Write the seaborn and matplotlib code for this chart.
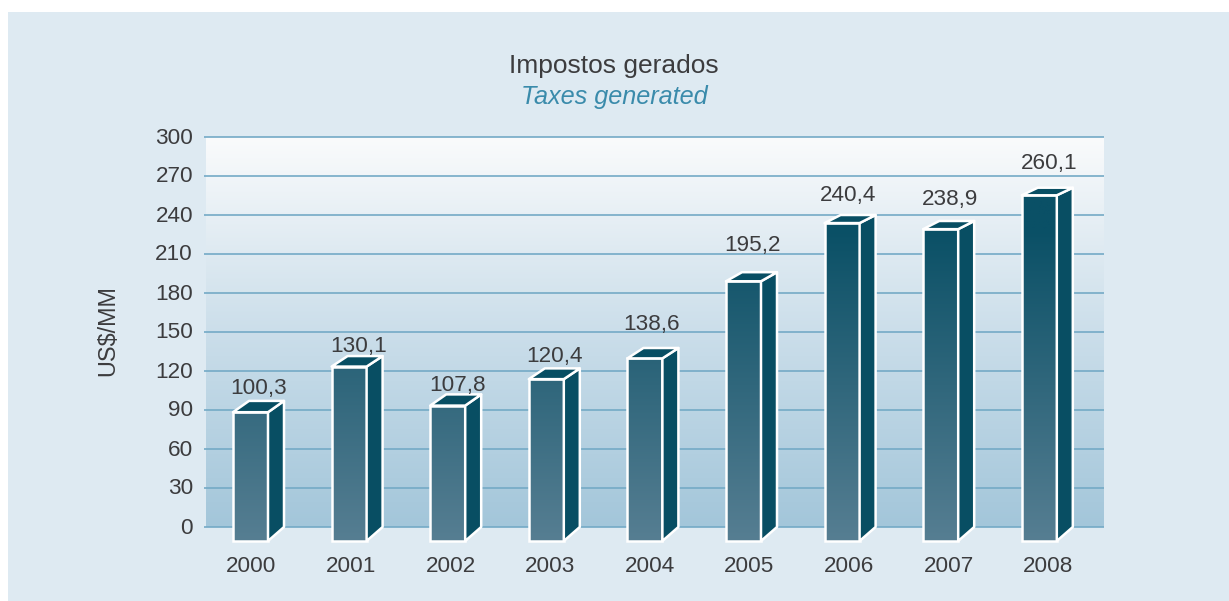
import matplotlib
matplotlib.use("Agg")
import matplotlib.pyplot as plt
import matplotlib.transforms as mtrans
import numpy as np
import pandas as pd
import seaborn as sns
from matplotlib.colors import LinearSegmentedColormap
from matplotlib.patches import Polygon, Rectangle

years = ["2000", "2001", "2002", "2003", "2004", "2005", "2006", "2007", "2008"]
value_labels = ["100,3", "130,1", "107,8", "120,4", "138,6", "195,2", "240,4", "238,9", "260,1"]
# bar heights as actually drawn in the picture (back top edge, read against the axis)
bar_heights = [97.0, 131.5, 102.0, 122.0, 137.7, 196.0, 240.0, 235.4, 261.0]
y_ticks = [0, 30, 60, 90, 120, 150, 180, 210, 240, 270, 300]

W, H = 1229, 601
PX_Y = 390 / 300          # pixels per value unit
PX_X = 98.6               # pixels per category
DX = 16 / PX_X            # depth of the box, in category units
BASE = -14 / PX_Y         # front faces start below the zero line

sns.set_theme(style="white")
plt.rcParams["font.family"] = ["Liberation Sans", "DejaVu Sans"]
TEXT = "#3c3c3e"
FS = 16.2

fig = plt.figure(figsize=(W / 100, H / 100), dpi=100, facecolor="white")
fig.patches.append(Rectangle((8 / W, 0), 1 - 8 / W, 1 - 12 / H, transform=fig.transFigure,
                             facecolor="#deeaf2", edgecolor="none", zorder=-5))
ax = fig.add_axes([205 / W, (H - 527) / H, 899 / W, 390 / H])
ax.patch.set_alpha(0)


def depth_px(v):
    """Perspective: the box gets shallower towards the top of the chart."""
    return 13.5 - 0.0174 * (v * PX_Y)


df = pd.DataFrame({"year": years, "height": bar_heights})
sns.barplot(data=df, x="year", y="height", order=years, ax=ax, errorbar=None,
            width=35 / PX_X, color="#0a5066", saturation=1)

xlim = (-45.5 / PX_X, (1104 - 250.5) / PX_X)
ylim = (0, 300)

bg = LinearSegmentedColormap.from_list("bg", [(0, "#a3c6da"), (0.5, "#cbdeea"), (1, "#fafbfc")])
ax.imshow(np.linspace(1, 0, 256)[:, None], cmap=bg, aspect="auto", zorder=0,
          extent=(1 / 98.6 + xlim[0], xlim[1], 0, 300))
for t in y_ticks:
    ax.plot([xlim[0] - 1 / PX_X, xlim[1]], [t, t], color="#74aac6", lw=1.2, zorder=1,
            clip_on=False, solid_capstyle="butt")

bar_map = LinearSegmentedColormap.from_list(
    "bar", [(0, "#0a5066"), (0.23, "#0a5066"), (1, "#567e92")])
top_v = 300
for patch, v, lab, gap, off in zip(ax.patches, bar_heights, value_labels,
                                   [12, 10, 9, 12, 23, 27, 19, 21, 24],
                                   [8.5, 10, 10, 8, 7, 8.5, 6, 9, 10]):
    front_top = v - depth_px(v) / PX_Y
    patch.set_y(BASE)
    patch.set_height(front_top - BASE)
    xl = patch.get_x()
    xr = xl + patch.get_width()
    img = ax.imshow(np.linspace(0, 1, 256)[:, None], cmap=bar_map, aspect="auto", zorder=3,
                    extent=(xl, xr, BASE, top_v), clip_on=True)
    img.set_clip_path(patch)
    patch.set_facecolor("none")
    patch.set_edgecolor("white")
    patch.set_linewidth(1.8)
    patch.set_zorder(4)
    patch.set_clip_on(False)
    for pts in ([(xr, BASE), (xr + DX, 0), (xr + DX, v), (xr, front_top)],
                [(xl, front_top), (xl + DX, v), (xr + DX, v), (xr, front_top)]):
        ax.add_patch(Polygon(pts, closed=True, facecolor="#084e63", edgecolor="white",
                             lw=1.8, zorder=4, clip_on=False, joinstyle="round"))
    ax.annotate(lab, xy=((xl + xr) / 2, v), xytext=(off * 0.72, gap * 0.72),
                textcoords="offset points", ha="center", va="center",
                fontsize=FS, color=TEXT, zorder=6, annotation_clip=False)

ax.set_xlim(*xlim)
ax.set_ylim(*ylim)
sns.despine(ax=ax, left=True, bottom=True, top=True, right=True)
ax.set_yticks(y_ticks, [str(t) for t in y_ticks])
ax.set_xticks((np.arange(len(years)) * 99.6 + 1) / PX_X, years)
ax.tick_params(axis="y", length=0, pad=8.6, labelsize=FS, labelcolor=TEXT)
ax.tick_params(axis="x", length=0, pad=21, labelsize=FS, labelcolor=TEXT)
lift = mtrans.ScaledTranslation(0, 1.5 / 72 * 0.72 * 1.0, fig.dpi_scale_trans)
for lbl in ax.get_yticklabels():
    lbl.set_transform(lbl.get_transform() + lift)
ax.set_xlabel("")
ax.set_ylabel("")
ax.grid(False)

fig.text(108 / W, 1 - 331 / H, "US$/MM", rotation=90, ha="center", va="center",
         fontsize=FS + 0.6, color=TEXT)
fig.text(614 / W, 1 - 66 / H, "Impostos gerados", ha="center", va="center",
         fontsize=19, color=TEXT)
fig.text(614 / W, 1 - 97 / H, "Taxes generated", ha="center", va="center",
         fontsize=18.2, color="#3a8bab", style="italic")

fig.savefig("out.png", dpi=100, facecolor="white")
